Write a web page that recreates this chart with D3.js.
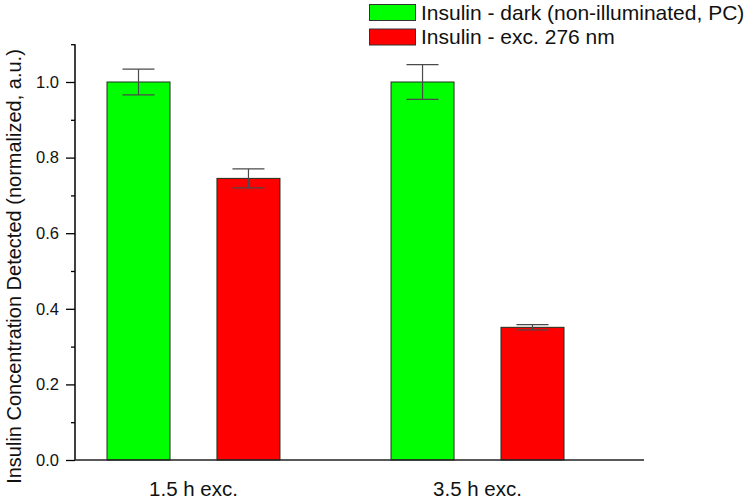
<!DOCTYPE html>
<html>
<head>
<meta charset="utf-8">
<script src="https://cdn.jsdelivr.net/npm/d3@7"></script>
<style>
  html, body { margin: 0; padding: 0; background: #fff; }
  svg { display: block; font-family: "Liberation Sans", Arial, sans-serif; }
</style>
</head>
<body>
<svg id="chart" width="754" height="500"></svg>
<script>
const categories = ["1.5 h exc.", "3.5 h exc."];
const seriesNames = ["Insulin - dark (non-illuminated, PC)", "Insulin - exc. 276 nm"];
const seriesColors = ["#00ff00", "#ff0000"];
const darkValues = [1.0, 1.0];
const darkErrors = [0.034, 0.046];
const excValues = [0.745, 0.351];
const excErrors = [0.025, 0.007];
const yTicks = [0.0, 0.2, 0.4, 0.6, 0.8, 1.0];
const yMinorTicks = [0.1, 0.3, 0.5, 0.7, 0.9, 1.1];
const yTitle = "Insulin Concentration Detected (normalized, a.u.)";

const svg = d3.select("#chart");
const x0 = 75, x1 = 644, yBottom = 460, yTop = 44.2;

const y = d3.scaleLinear().domain([0, 1.1]).range([yBottom, yTop]);
const xg = d3.scaleBand().domain(categories).range([107, 564]).paddingInner(0.391).paddingOuter(0);
const xs = d3.scaleBand().domain([0, 1]).range([0, xg.bandwidth()]).paddingInner(0.427).paddingOuter(0);

const data = [];
categories.forEach((c, i) => {
  data.push({cat: c, s: 0, v: darkValues[i], e: darkErrors[i]});
  data.push({cat: c, s: 1, v: excValues[i], e: excErrors[i]});
});

// bars
svg.append("g").selectAll("rect").data(data).join("rect")
  .attr("x", d => xg(d.cat) + xs(d.s))
  .attr("y", d => y(d.v))
  .attr("width", xs.bandwidth())
  .attr("height", d => y(0) - y(d.v))
  .attr("fill", d => seriesColors[d.s])
  .attr("stroke", "#1f2f1f")
  .attr("stroke-width", 1);

// error bars
const eb = svg.append("g").attr("stroke", "#4a4a4a").attr("stroke-width", 1.2).attr("fill", "none");
data.forEach(d => {
  const cx = xg(d.cat) + xs(d.s) + xs.bandwidth() / 2;
  const cw = 16;
  eb.append("line").attr("x1", cx).attr("x2", cx).attr("y1", y(d.v + d.e)).attr("y2", y(d.v - d.e));
  eb.append("line").attr("x1", cx - cw).attr("x2", cx + cw).attr("y1", y(d.v + d.e)).attr("y2", y(d.v + d.e));
  eb.append("line").attr("x1", cx - cw).attr("x2", cx + cw).attr("y1", y(d.v - d.e)).attr("y2", y(d.v - d.e));
});

// y axis
const yAxis = d3.axisLeft(y).tickValues(yTicks).tickFormat(d3.format(".1f")).tickSize(9).tickPadding(7);
const gy = svg.append("g").attr("transform", `translate(${x0},0)`).call(yAxis);
gy.select(".domain").attr("stroke", "#000").attr("stroke-width", 1.5).attr("d", `M0,${yBottom}V${yTop}`);
gy.selectAll(".tick line").attr("stroke", "#000").attr("stroke-width", 1.3);
gy.selectAll(".tick text").attr("font-size", 16.5).attr("fill", "#111").attr("font-family", "Liberation Sans, Arial, sans-serif");
const gyMinor = svg.append("g").attr("transform", `translate(${x0},0)`)
  .call(d3.axisLeft(y).tickValues(yMinorTicks).tickSize(4).tickFormat(""));
gyMinor.select(".domain").remove();
gyMinor.selectAll(".tick line").attr("stroke", "#000").attr("stroke-width", 1.3);

// x axis
const xAxis = d3.axisBottom(xg).tickSize(0).tickPadding(21);
const gx = svg.append("g").attr("transform", `translate(0,${yBottom})`).call(xAxis);
gx.select(".domain").attr("stroke", "#222").attr("stroke-width", 1.5).attr("d", `M${x0},0H${x1}`);
gx.selectAll(".tick text").attr("font-size", 20.5).attr("fill", "#111").attr("font-family", "Liberation Sans, Arial, sans-serif");

// y title
svg.append("text")
  .attr("transform", `translate(21,${(47 + 486) / 2}) rotate(-90)`)
  .attr("text-anchor", "middle")
  .attr("font-size", 20)
  .attr("fill", "#111")
  .text(yTitle);

// legend
const lg = svg.append("g");
seriesNames.forEach((n, i) => {
  const ly = 4.5 + i * 24.5;
  lg.append("rect").attr("x", 369.5).attr("y", ly).attr("width", 46).attr("height", 16)
    .attr("fill", seriesColors[i]).attr("stroke", "#333").attr("stroke-width", 1);
  lg.append("text").attr("x", 421).attr("y", ly + 15).attr("font-size", 21).attr("fill", "#111").text(n);
});
</script>
</body>
</html>
